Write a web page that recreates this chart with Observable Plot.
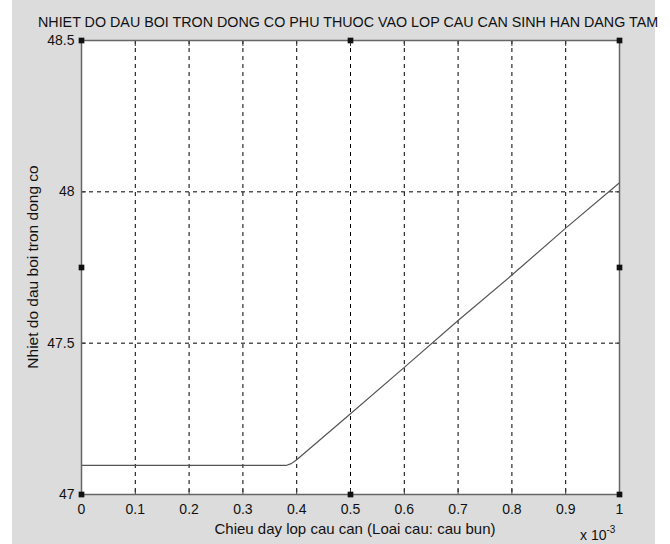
<!DOCTYPE html>
<html>
<head>
<meta charset="utf-8">
<script src="https://cdn.jsdelivr.net/npm/d3@7"></script>
<script src="https://cdn.jsdelivr.net/npm/@observablehq/plot@0.6"></script>
<style>
  html, body { margin: 0; padding: 0; background: #ffffff; }
  #wrap { position: relative; width: 670px; height: 544px; overflow: hidden; font-family: "Liberation Sans", Arial, sans-serif; }
  #bg { position: absolute; left: 12px; top: 0; width: 643px; height: 544px; background: #dcdcdc; }
  #chart { position: absolute; left: 0; top: 0; }
  .t { position: absolute; color: #111; white-space: nowrap; line-height: 1; }
  #title { top: 15px; left: 38px; font-size: 14.3px; }
  #xlabel { top: 521px; left: 0; width: 710px; text-align: center; font-size: 15px; }
  #ylabel { left: 33px; top: 267px; font-size: 15.5px; transform: translate(-50%, -50%) rotate(-90deg); }
  #xexp { top: 528px; left: 580px; font-size: 14px; }
  #xexp sup { font-size: 10px; vertical-align: baseline; position: relative; top: -7px; }
</style>
</head>
<body>
<div id="wrap">
  <div id="bg"></div>
  <div id="chart"></div>
  <div class="t" id="title">NHIET DO DAU BOI TRON DONG CO PHU THUOC VAO LOP CAU CAN SINH HAN DANG TAM</div>
  <div class="t" id="xlabel">Chieu day lop cau can (Loai cau: cau bun)</div>
  <div class="t" id="ylabel">Nhiet do dau boi tron dong co</div>
  <div class="t" id="xexp">x 10<sup>-3</sup></div>
</div>
<script>
// thickness (x 10^-3)
const thickness = [0, 0.1, 0.2, 0.3, 0.38, 0.39, 0.4, 0.5, 0.6, 0.7, 0.8, 0.9, 1.0];
// oil temperature
const temperature = [47.096, 47.096, 47.096, 47.096, 47.096, 47.102, 47.115, 47.267, 47.42, 47.575, 47.725, 47.88, 48.03];

const xTicks = [0, 0.1, 0.2, 0.3, 0.4, 0.5, 0.6, 0.7, 0.8, 0.9, 1];
const yTicks = [47, 47.5, 48, 48.5];
const yTickLabels = ["47", "47.5", "48", "48.5"];

// small square markers visible on the axes box
const markerX = [0, 0.5, 1, 0, 1, 0, 0.5, 1];
const markerY = [47, 47, 47, 47.75, 47.75, 48.5, 48.5, 48.5];

const lineData = thickness.map((x, i) => ({x, y: temperature[i]}));
const markers = markerX.map((x, i) => ({x, y: markerY[i]}));

const plot = Plot.plot({
  width: 670,
  height: 544,
  marginLeft: 81,
  marginRight: 51,
  marginTop: 40,
  marginBottom: 50,
  style: { background: "transparent", fontFamily: "Liberation Sans, Arial, sans-serif", fontSize: "14px", color: "#111" },
  x: { domain: [0, 1], label: null },
  y: { domain: [47, 48.5], label: null },
  marks: [
    Plot.frame({ fill: "white", stroke: "none" }),
    Plot.ruleX(xTicks.slice(1, -1), { stroke: "#000", strokeWidth: 1, strokeDasharray: "4,4" }),
    Plot.ruleY(yTicks.slice(1, -1), { stroke: "#000", strokeWidth: 1, strokeDasharray: "4,4" }),
    Plot.axisX({ anchor: "bottom", ticks: xTicks, tickSize: 0, tickPadding: 10, tickFormat: d => d3.format("")(d), fill: "#111", fontSize: 14 }),
    Plot.axisX({ anchor: "bottom", ticks: xTicks, tickSize: -5, text: null, stroke: "#333" }),
    Plot.axisX({ anchor: "top", ticks: xTicks, tickSize: -5, text: null, stroke: "#333" }),
    Plot.axisY({ anchor: "left", ticks: yTicks, tickSize: 0, tickPadding: 7, tickFormat: (d, i) => yTickLabels[i], fill: "#111", fontSize: 14 }),
    Plot.axisY({ anchor: "left", ticks: yTicks, tickSize: -5, text: null, stroke: "#333" }),
    Plot.axisY({ anchor: "right", ticks: yTicks, tickSize: -5, text: null, stroke: "#333" }),
    Plot.line(lineData, { x: "x", y: "y", stroke: "#555", strokeWidth: 1.2 }),
    Plot.frame({ stroke: "#666", strokeWidth: 1.5 }),
    Plot.dot(markers, { x: "x", y: "y", symbol: "square", r: 3.2, fill: "#111", stroke: "none" })
  ]
});
document.getElementById("chart").appendChild(plot);
</script>
</body>
</html>
